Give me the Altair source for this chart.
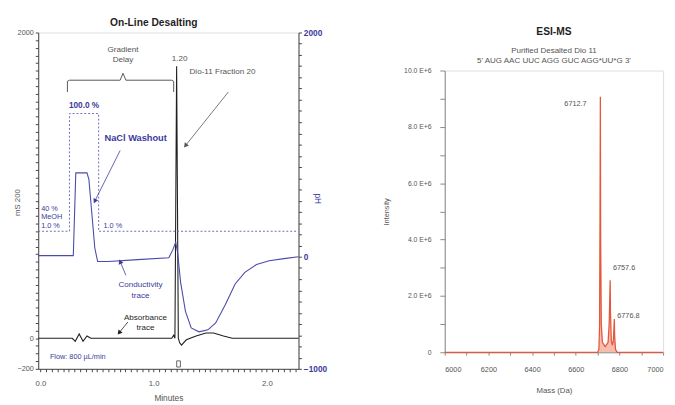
import math
import altair as alt
import pandas as pd

FONT = "Liberation Sans"
INK = "#1f1f1f"
GREY = "#555555"
BLUE = "#3b3b9c"
LBLUE = "#6a6ac2"
RED = "#e2583c"
SALMON = "#f6a690"

# ---------------- Left panel: On-Line Desalting ----------------
abs_minutes = [-0.02, 0.281, 0.307, 0.342, 0.376, 0.411, 0.445, 1.160, 1.177, 1.188,
               1.203, 1.218, 1.230, 1.246, 1.289, 1.375, 1.462, 1.530, 1.617, 1.694, 2.28]
abs_signal = [0, 0, -20, 28, -20, 15, 0, 0, 20, 0,
              1780, 0, -30, -45, -10, 15, 35, 35, 15, 0, 0]

cond_minutes = [-0.02, 0.290, 0.312, 0.411, 0.428, 0.454, 0.480, 0.505, 0.600, 0.859,
                1.134, 1.169, 1.195, 1.212, 1.238, 1.281, 1.332, 1.401, 1.479, 1.548,
                1.634, 1.720, 1.806, 1.909, 2.021, 2.151, 2.28]
cond_signal = [10, 10, 748, 748, 687, 383, 78, -43, -43, -26,
               -9, 61, 130, 35, -226, -487, -635, -670, -652, -591,
               -426, -243, -139, -70, -35, -17, 0]

grad_minutes = [-0.02, 0.256, 0.256, 0.514, 0.514, 2.28]
grad_level = [700, 700, 1470, 1470, 700, 700]

brace_minutes = [0.238, 0.238, 0.256, 0.704, 0.729, 0.755, 1.160, 1.177, 1.177]
brace_level = [1611, 1681, 1688, 1688, 1733, 1688, 1688, 1681, 1611]

# annotations: (minutes, level, text)
grey_notes = [(0.729, 1885, "Gradient"), (0.729, 1821, "Delay"),
              (1.229, 1828, "1.20"), (1.608, 1739, "Dio-11 Fraction 20")]
blue_notes = [(0.884, 348, "Conductivity"), (0.884, 278, "trace")]
black_notes = [(0.928, 132, "Absorbance"), (0.928, 68, "trace")]
pct_notes = [(0.385, 1528, "100.0 %")]
washout_notes = [(0.841, 1311, "NaCl Washout")]
blue_left_notes = [(0.006, 846, "40 %"), (0.006, 795, "MeOH"), (0.006, 737, "1.0 %"),
                   (0.557, 737, "1.0 %"), (0.083, -123, "Flow: 800 \u00b5L/min")]

# arrows: tail (minutes, level) -> head (minutes, level), colour
arrow_tail_t = [1.660, 0.704, 0.755, 0.772]
arrow_tail_v = [1611, 1228, 412, 106]
arrow_head_t = [1.281, 0.480, 0.704, 0.695]
arrow_head_v = [1260, 897, 501, 36]
arrow_color = ["#555555", "#3b3b9c", "#3b3b9c", "#1f1f1f"]

fraction_marker = [(1.22, -168)]

# ---------------- Right panel: ESI-MS ----------------
mass = [6000, 6700, 6706, 6709, 6711, 6712.7, 6714, 6717, 6722, 6735, 6748, 6753, 6756,
        6757.6, 6759, 6763, 6768, 6772, 6775, 6776.8, 6778, 6782, 6790, 7000]
intensity = [0, 0, 0.1e6, 0.9e6, 4.5e6, 9.07e6, 4.0e6, 1.0e6, 0.35e6, 0.2e6, 0.35e6, 1.0e6,
             2.0e6, 2.56e6, 1.4e6, 0.4e6, 0.25e6, 0.4e6, 0.9e6, 1.18e6, 0.6e6, 0.1e6, 0, 0]
peak_labels = [(6650, 8.82e6, "6712.7", "right"), (6770, 2.98e6, "6757.6", "left"),
               (6790, 1.28e6, "6776.8", "left")]

LW, LH = 267, 345
RW, RH = 224, 289
T_DOM = [-0.02, 2.28]
L_DOM = [-200, 2000]
R_DOM = [-1000, 2000]

xs = alt.Scale(domain=T_DOM, nice=False, zero=False)
ysl = alt.Scale(domain=L_DOM, nice=False, zero=False)
ysr = alt.Scale(domain=R_DOM, nice=False, zero=False)

x_axis = alt.Axis(values=[round(0.05 * i, 2) for i in range(0, 46)],
                  labelExpr="abs(datum.value - round(datum.value)) < 0.001 ? format(datum.value, '.1f') : ''",
                  title="Minutes", titleFontWeight="normal", titleFontSize=8.5, titleColor=GREY,
                  titlePadding=6, labelFontSize=8, labelColor=GREY, tickSize=3,
                  tickColor="#444", domainColor="#444", grid=False, labelPadding=8)
yl_axis = alt.Axis(values=list(range(-200, 2001, 50)), format="d",
                   labelExpr="datum.value == 2000 || datum.value == 0 || datum.value == -200 ? datum.label : ''",
                   title="mS  200", titleFontWeight="normal", titleFontSize=8, titleColor=GREY,
                   titleX=-17, titleY=174, labelFontSize=7.5, labelColor=GREY, tickSize=3,
                   tickColor="#444", domainColor="#444", grid=False, labelPadding=2)
yr_axis = alt.Axis(orient="right", values=list(range(-1000, 2001, 100)), format="d",
                   labelExpr="datum.value == 2000 || datum.value == 0 || datum.value == -1000 ? datum.label : ''",
                   title="pH", titleFontWeight="normal", titleFontSize=8.5, titleColor=BLUE,
                   titleX=14, titleY=170, labelFontSize=8.5, labelFontWeight="bold", labelColor=BLUE,
                   tickSize=3, tickColor="#444", domainColor="#444", grid=False, labelPadding=2)

abs_df = pd.DataFrame({"t": abs_minutes, "v": abs_signal})
cond_df = pd.DataFrame({"t": cond_minutes, "v": cond_signal})
grad_df = pd.DataFrame({"t": grad_minutes, "v": grad_level, "o": range(len(grad_minutes))})
brace_df = pd.DataFrame({"t": brace_minutes, "v": brace_level, "o": range(len(brace_minutes))})


def X():
    # every layer carries the same x axis so that the shared axis merges cleanly
    return alt.X("t:Q", scale=xs, axis=x_axis)


def Y():
    return alt.Y("v:Q", scale=ysl, axis=None)


absorb = alt.Chart(abs_df).mark_line(color=INK, strokeWidth=1.1).encode(
    x=X(), y=alt.Y("v:Q", scale=ysl, axis=yl_axis))

cond = alt.Chart(cond_df).mark_line(color="#4a4aaa", strokeWidth=1.1).encode(
    x=X(), y=alt.Y("v:Q", scale=ysr, axis=yr_axis))

grad = alt.Chart(grad_df).mark_line(color=LBLUE, strokeWidth=1, strokeDash=[2, 2]).encode(
    x=X(), y=Y(), order="o:Q")

brace = alt.Chart(brace_df).mark_line(color="#555", strokeWidth=1).encode(
    x=X(), y=Y(), order="o:Q")


def notes(rows, color, align="center", weight="normal", size=8.3):
    df = pd.DataFrame(rows, columns=["t", "v", "txt"])
    return alt.Chart(df).mark_text(color=color, align=align, baseline="middle", fontSize=size,
                                   fontWeight=weight, font=FONT).encode(
        x=X(), y=Y(), text="txt:N")


# arrows
px_per_t = LW / (T_DOM[1] - T_DOM[0])
px_per_v = LH / (L_DOM[1] - L_DOM[0])
arr_rows = []
head_rows = []
for i in range(len(arrow_tail_t)):
    arr_rows.append({"id": i, "o": 0, "t": arrow_tail_t[i], "v": arrow_tail_v[i], "c": arrow_color[i]})
    arr_rows.append({"id": i, "o": 1, "t": arrow_head_t[i], "v": arrow_head_v[i], "c": arrow_color[i]})
    dx = (arrow_head_t[i] - arrow_tail_t[i]) * px_per_t
    dy = -(arrow_head_v[i] - arrow_tail_v[i]) * px_per_v
    ang = math.degrees(math.atan2(dx, -dy)) % 360
    head_rows.append({"t": arrow_head_t[i], "v": arrow_head_v[i], "a": ang, "c": arrow_color[i]})
arr_df = pd.DataFrame(arr_rows)
head_df = pd.DataFrame(head_rows)

arrow_lines = alt.Chart(arr_df).mark_line(strokeWidth=0.8).encode(
    x=X(), y=Y(), detail="id:N", order="o:Q", color=alt.Color("c:N", scale=None))
arrow_heads = alt.Chart(head_df).mark_point(shape="triangle-up", filled=True, size=28, opacity=1).encode(
    x=X(), y=Y(), angle=alt.Angle("a:Q", scale=None), color=alt.Color("c:N", scale=None))

marker = alt.Chart(pd.DataFrame(fraction_marker, columns=["t", "v"])).mark_point(
    shape="M-0.6,-1V1H0.6V-1Z", filled=False, size=40, color="#555", strokeWidth=0.9, opacity=1).encode(
    x=X(), y=Y())

left = alt.layer(absorb, cond, grad, brace, arrow_lines, arrow_heads, marker,
                 notes(grey_notes, GREY), notes(blue_notes, BLUE), notes(black_notes, INK),
                 notes(pct_notes, BLUE, weight="bold", size=8.5),
                 notes(washout_notes, BLUE, weight="bold", size=9.5),
                 notes(blue_left_notes, BLUE, align="left", size=7.5)
                 ).resolve_scale(y="independent").properties(
    width=LW, height=LH,
    title=alt.TitleParams("On-Line Desalting", fontSize=10.5, fontWeight="bold", color=INK,
                          font=FONT, offset=0, dx=-15))

# ---------------- right panel ----------------
ms_df = pd.DataFrame({"m": mass, "i": intensity})
mx = alt.Scale(domain=[6000, 7000], nice=False, zero=False)
my = alt.Scale(domain=[0, 10e6], nice=False, zero=True)
mx_axis = alt.Axis(values=list(range(6000, 7001, 100)), format="d",
                   labelExpr="datum.value % 200 == 0 ? datum.label : ''",
                   title="Mass (Da)", titleFontWeight="normal", titleFontSize=8, titleColor=GREY,
                   titlePadding=14, labelFontSize=7.5, labelColor=GREY, tickSize=3,
                   tickColor="#888", domainColor="#888", grid=False, labelPadding=11)
my_axis = alt.Axis(values=[i * 1e6 for i in range(0, 11)],
                   labelExpr="datum.value == 0 ? '0' : (datum.value % 2000000 == 0 ? format(datum.value / 1e6, '.1f') + ' E+6' : '')",
                   title="Intensity", titleFontWeight="normal", titleFontSize=7.5, titleColor=GREY,
                   titlePadding=13, labelFontSize=7, labelColor=GREY, tickSize=5,
                   tickColor="#888", domainColor="#888", grid=False, labelPadding=9)

area = alt.Chart(ms_df).mark_area(color=SALMON, opacity=0.75).encode(
    x=alt.X("m:Q", scale=mx, axis=mx_axis), y=alt.Y("i:Q", scale=my, axis=my_axis))
ms_line = alt.Chart(ms_df).mark_line(color=RED, strokeWidth=1.3).encode(
    x=alt.X("m:Q", scale=mx, axis=mx_axis), y=alt.Y("i:Q", scale=my, axis=my_axis))
pl_df = pd.DataFrame(peak_labels, columns=["m", "i", "txt", "al"])
pl_right = alt.Chart(pl_df[pl_df.al == "right"]).mark_text(
    align="right", fontSize=7.5, color=GREY, font=FONT).encode(
    x=alt.X("m:Q", scale=mx, axis=mx_axis), y=alt.Y("i:Q", scale=my, axis=my_axis), text="txt:N")
pl_left = alt.Chart(pl_df[pl_df.al == "left"]).mark_text(
    align="left", fontSize=7.5, color=GREY, font=FONT).encode(
    x=alt.X("m:Q", scale=mx, axis=mx_axis), y=alt.Y("i:Q", scale=my, axis=my_axis), text="txt:N")

ms_plot = alt.layer(area, ms_line, pl_right, pl_left).properties(width=RW, height=RH)

header = alt.Chart(pd.DataFrame({"k": [0]})).mark_point(opacity=0, size=1).encode(
    x=alt.value(0), y=alt.value(0)
).properties(
    width=RW, height=1, view=alt.ViewBackground(stroke="transparent"),
    title=alt.TitleParams("ESI-MS", subtitle=["Purified Desalted Dio 11",
                                              "5' AUG AAC UUC AGG GUC AGG*UU*G 3'"],
                          orient="bottom", dy=-6,
                          fontSize=10.5, fontWeight="bold", color=INK, font=FONT,
                          subtitleFontSize=8.2, subtitleColor=GREY, subtitleFont=FONT,
                          subtitleLineHeight=9.5, subtitlePadding=10, offset=0))

right = alt.vconcat(header, ms_plot, spacing=1)

chart = alt.hconcat(left, right, spacing=56).properties(
    padding={"left": 5, "top": 5, "right": 0, "bottom": 0}
).configure_view(stroke="#555", strokeWidth=1).configure(font=FONT)

chart.save("out.html", embed_options={"renderer": "svg", "actions": False})
